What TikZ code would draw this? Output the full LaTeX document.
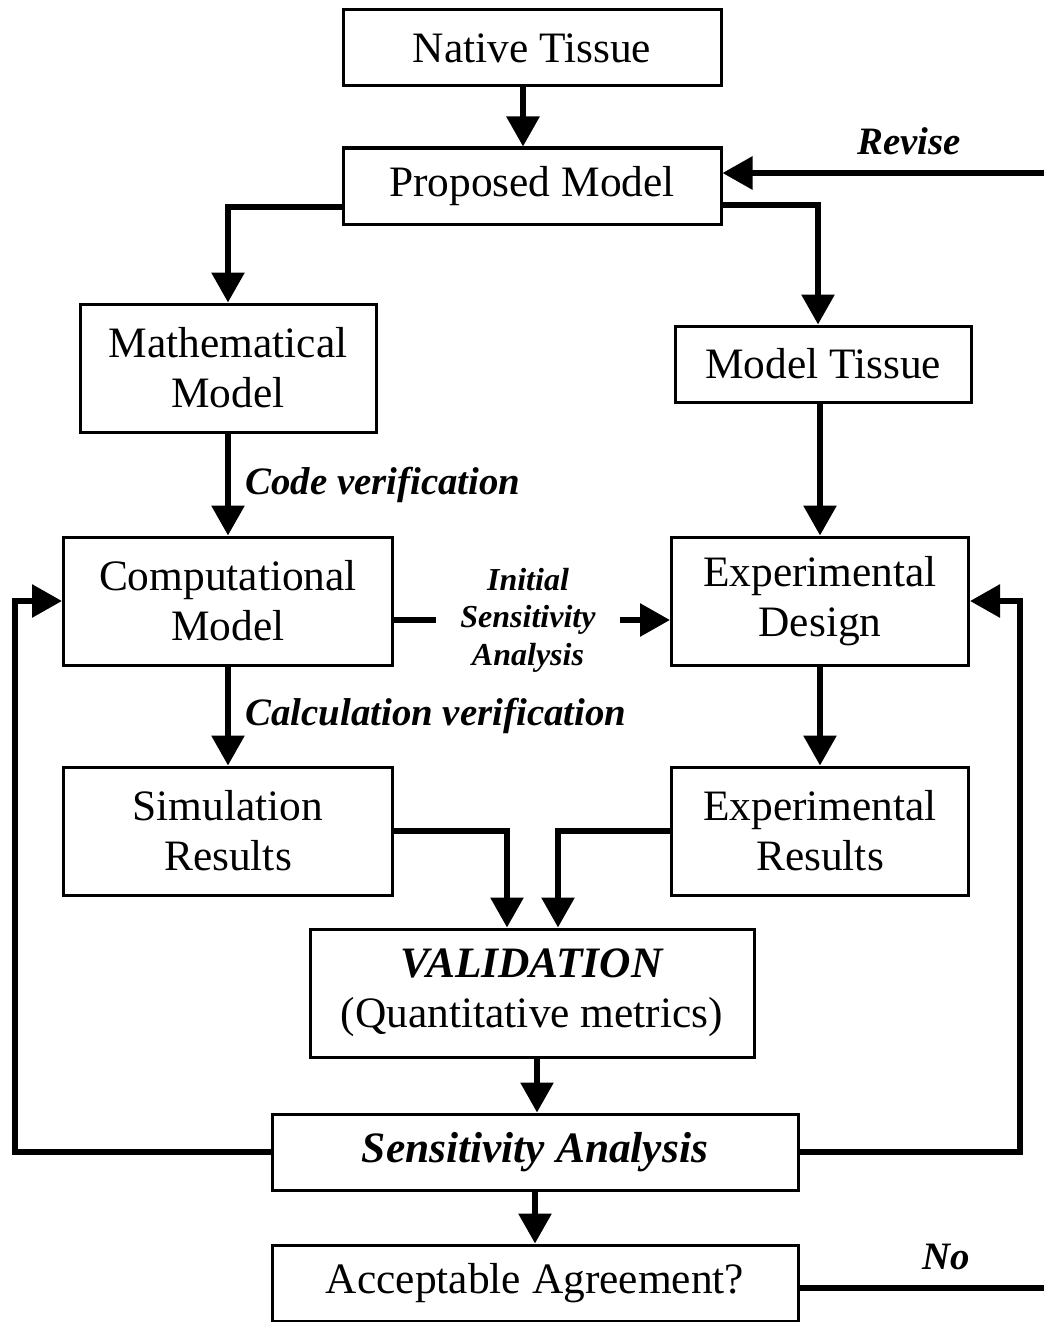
\documentclass[tikz,border=0pt]{standalone}
\usepackage{fontspec}
\setmainfont{Liberation Serif}
\usetikzlibrary{arrows.meta}

\tikzstyle{block} = [rectangle, draw=black, line width=1.5pt, inner sep=0pt, minimum height=38pt, align=center, font=\fontsize{21.7}{25}\selectfont]
\tikzstyle{tallblock} = [block, minimum height=64pt]
\tikzstyle{lab} = [font=\bfseries\itshape\fontsize{19.4}{22}\selectfont]
\tikzstyle{line} = [line width=3pt]
\tikzstyle{arrow} = [line, -{Triangle[length=15pt, width=16pt]}]

\begin{document}
\begin{tikzpicture}[x=0.5pt, y=-0.5pt]
    \useasboundingbox (0,0) rectangle (1044,1322);

    \node (nat)  [block, minimum width=189pt] at (532,48) {Native Tissue};
    \node (prop) [block, minimum width=189pt] at (532,186) {Proposed Model};
    \node (math) [tallblock, minimum width=148pt] at (228,368) {Mathematical\\Model};
    \node (mtis) [block, minimum width=148pt] at (823,364) {Model Tissue};
    \node (comp) [tallblock, minimum width=164.5pt] at (228,601) {Computational\\Model};
    \node (expd) [tallblock, minimum width=148.5pt] at (820,601) {Experimental\\Design};
    \node (sim)  [tallblock, minimum width=164.5pt] at (228,831) {Simulation\\Results};
    \node (expr) [tallblock, minimum width=148.5pt] at (820,831) {Experimental\\Results};
    \node (val)  [tallblock, minimum width=222pt] at (532,993) {\textbf{\textit{VALIDATION}}\\(Quantitative metrics)};
    \node (sens) [block, minimum width=263pt] at (535,1152) {\textbf{\textit{Sensitivity Analysis}}};
    \node (acc)  [block, minimum width=263pt] at (535,1283) {Acceptable Agreement?};
    \node (isa)  [lab, font=\bfseries\itshape\fontsize{16}{18.75}\selectfont, align=center, inner sep=0pt, minimum width=91.5pt] at (528,620) {Initial\\Sensitivity\\Analysis};

    % loose ends at the right edge
    \coordinate (rev) at (1044,173);
    \coordinate (no)  at (1044,1288);
    \coordinate (lp)  at (15,900);
    \coordinate (rp)  at (1020,900);

    \draw [arrow] ([xshift=-4.5pt]nat.south) -- ([xshift=-4.5pt]prop.north);
    \draw [arrow] (rev) -- (rev -| prop.east) node[pos=.42, above=4pt, lab] {Revise};
    \draw [arrow] ([yshift=-10.5pt]prop.west) -| (math.north);
    \draw [arrow] ([yshift=-9.5pt]prop.east) -| ([xshift=-2.5pt]mtis.north);
    \draw [arrow] (math) -- (comp) node[midway, right=4pt, lab] {Code verification};
    \draw [arrow] (expd.north |- mtis.south) -- (expd.north);
    \draw [line]  (isa.west -| comp.east) -- (isa.west);
    \draw [arrow] (isa.east) -- (isa.east -| expd.west);
    \draw [arrow] (comp) -- (sim) node[midway, right=4pt, lab] {Calculation verification};
    \draw [arrow] (expd) -- (expr);
    \draw [arrow] (sim.east) -| ([xshift=-12.5pt]val.north);
    \draw [arrow] (expr.west) -| ([xshift=13pt]val.north);
    \draw [arrow] ([xshift=2.5pt]val.south) -- ([xshift=2.5pt]val.south |- sens.north);
    \draw [arrow] (sens.west) -| (lp) |- (comp.west);
    \draw [arrow] (sens.east) -| (rp) |- (expd.east);
    \draw [arrow] (sens) -- (acc);
    \draw [line]  (acc.east |- no) -- (no) node[pos=.6, above=4pt, lab] {No};
\end{tikzpicture}
\end{document}
